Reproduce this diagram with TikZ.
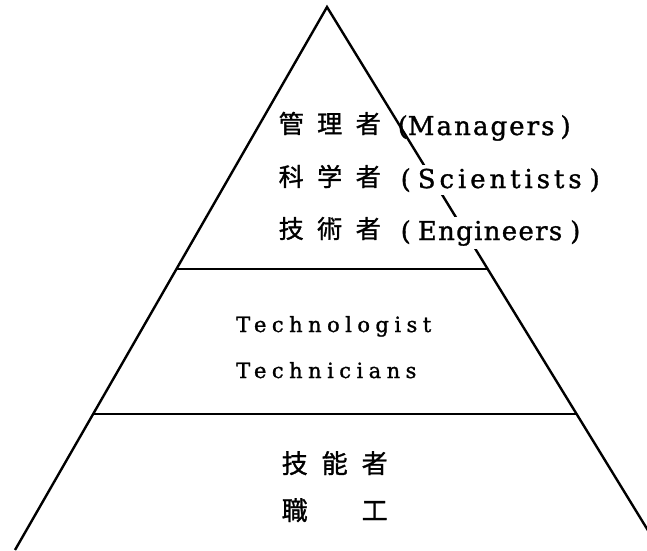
\documentclass[tikz,border=0pt]{standalone}
\usepackage{fontspec}
\usetikzlibrary{calc}
\setmainfont{DejaVu Serif}
\newfontfamily\cjk[FakeBold=1.2]{Noto Sans CJK JP}
\newfontfamily\lat[FakeBold=1.2]{DejaVu Serif}
\newcommand\lsp[2]{{\addfontfeature{LetterSpace=#1}#2}}
\begin{document}
\begin{tikzpicture}[x=1pt,y=-1pt,
  edge/.style={line width=2.4pt, line join=miter},
  hline/.style={line width=2.2pt},
  jtext/.style={anchor=base west, inner sep=0pt, font=\cjk\fontsize{25}{25}\selectfont},
  jtextb/.style={anchor=base west, inner sep=0pt, font=\cjk\fontsize{26}{26}\selectfont},
  etext/.style={anchor=base west, inner xsep=0pt, inner ysep=3pt, font=\lat\fontsize{26}{26}\selectfont},
  mtext/.style={anchor=base west, inner sep=0pt, font=\lat\fontsize{21}{21}\selectfont}]
\useasboundingbox (0,0) rectangle (647,550);
\clip (0,0) rectangle (647,550);
\coordinate (A) at (327,7);
\coordinate (BL) at (15,550);
\coordinate (BR) at (660,550);
\coordinate (L1) at ($(A)!0.4825!(BL)$);
\coordinate (R1) at ($(A)!0.4825!(BR)$);
\coordinate (L2) at ($(A)!0.7495!(BL)$);
\coordinate (R2) at ($(A)!0.7495!(BR)$);
\draw[edge] (BL) -- (A) -- (BR);
\draw[hline] (L1) -- (R1);
\draw[hline] (L2) -- (R2);
% top tier
\node[jtext] (j1) at (278.5,133) {管\hspace{13.5pt}理\hspace{13.5pt}者};
\node[etext] (e1) at (397.5,135) {(\lsp{8}{Managers}\hspace{6pt})};
\node[jtext] (j2) at (278.5,186) {科\hspace{13.5pt}学\hspace{13.5pt}者};
\node[etext, fill=white] (e2) at (400.5,188) {(\hspace{7pt}\lsp{15}{Scientists}\hspace{8pt})};
\node[jtext] (j3) at (278.5,238) {技\hspace{13.5pt}術\hspace{13.5pt}者};
\node[etext, fill=white] (e3) at (400.5,240) {(\hspace{7pt}\lsp{5}{Engineers}\hspace{8pt})};
% middle tier
\node[mtext] (t1) at (236,332) {\lsp{26}{Technologist}};
\node[mtext] (t2) at (236,378) {\lsp{26}{Technicians}};
% bottom tier
\node[jtextb] (b1) at (281.5,473) {技\hspace{14pt}能\hspace{14pt}者};
\node[jtextb] (b2) at (281.5,520) {職\hspace{54pt}工};
\end{tikzpicture}
\end{document}
